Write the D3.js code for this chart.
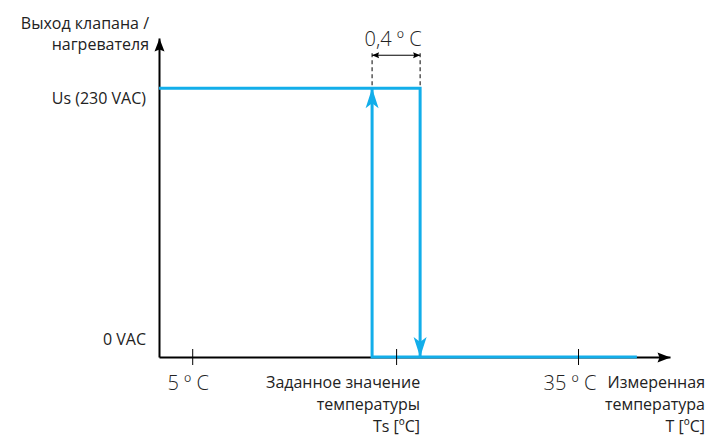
<!DOCTYPE html>
<html>
<head>
<meta charset="utf-8">
<script src="https://cdn.jsdelivr.net/npm/d3@7"></script>
<style>
body { margin: 0; background: #fff; }
text { font-family: "Open Sans", sans-serif; fill: #222; }
.lbl { font-size: 16px; }
.big { font-size: 20px; font-weight: 300; }
</style>
</head>
<body>
<div id="chart"></div>
<script>
// --- данные ---
var yTitle = ["Выход клапана /", "нагревателя"];
var xTitle = ["Измеренная", "температура", "T [ºC]"];
var levels = [0, 230];                       // VAC
var levelLabels = ["0 VAC", "Us (230 VAC)"];
var tempTicks = [5, 20, 35];                 // ºC
var tempLabels = ["5 º C", "", "35 º C"];
var setpointTitle = ["Заданное значение", "температуры", "Ts [ºC]"];
var setpoint = 20;                           // Ts
var hyst = 0.4;                              // гистерезис
var hystLabel = "0,4 º C";
var tMin = 2, tMax = 40, tEnd = 38.2;        // схема по оси T
var uMax = 273;

// выход: включено до Ts+h/2, выключено с Ts-h/2
var onBranch = [[tMin, 230], [setpoint + hyst / 2, 230], [setpoint + hyst / 2, 0]];
var offBranch = [[tEnd, 0], [setpoint - hyst / 2, 0], [setpoint - hyst / 2, 230]];

var width = 709, height = 439;
var margin = {top: 38, right: 39, bottom: 82, left: 159};
var plotW = width - margin.left - margin.right;
var plotH = height - margin.top - margin.bottom;
var blue = "#12aeea";

var svg = d3.select("#chart").append("svg")
    .attr("width", width).attr("height", height);

var defs = svg.append("defs");
function marker(id, color, len, half, notch) {
    defs.append("marker")
        .attr("id", id)
        .attr("markerUnits", "userSpaceOnUse")
        .attr("viewBox", (-len - 1) + " " + (-half - 1) + " " + (len + 2) + " " + (2 * half + 2))
        .attr("markerWidth", len + 2).attr("markerHeight", 2 * half + 2)
        .attr("refX", 0).attr("refY", 0)
        .attr("orient", "auto")
        .append("path")
        .attr("d", "M0,0L" + (-len) + "," + (-half) + "L" + (-len + notch) + ",0L" + (-len) + "," + half + "Z")
        .attr("fill", color);
}
marker("axisArrow", "#000", 13, 5, 2);
marker("blueArrow", blue, 20, 6.5, 5);
marker("dimArrow", "#000", 7, 3, 1);
defs.append("marker")
    .attr("id", "dimArrowStart")
    .attr("markerUnits", "userSpaceOnUse")
    .attr("viewBox", "-1 -4 9 8")
    .attr("markerWidth", 9).attr("markerHeight", 8)
    .attr("refX", 0).attr("refY", 0)
    .attr("orient", "auto")
    .append("path").attr("d", "M0,0L7,-3L6,0L7,3Z").attr("fill", "#000");

var x = d3.scaleLinear()
    .domain([tMin, 5, setpoint - hyst / 2, setpoint + hyst / 2, 35, tMax])
    .range([0, 0.065, 0.417, 0.511, 0.82, 1].map(function(f){ return f * plotW; }));
var y = d3.scaleLinear().domain([0, uMax]).range([plotH, 0]);

var plotArea = svg.append("g")
    .attr("transform", "translate(" + margin.left + "," + margin.top + ")");

// оси
var yAxis = plotArea.append("g")
    .call(d3.axisLeft(y).tickValues([]).tickSizeOuter(0));
yAxis.select(".domain")
    .attr("stroke", "#000").attr("stroke-width", 2)
    .attr("marker-end", "url(#axisArrow)");

var xAxis = plotArea.append("g")
    .attr("transform", "translate(0," + plotH + ")")
    .call(d3.axisBottom(x).tickValues([]).tickSizeOuter(0));
xAxis.select(".domain")
    .attr("stroke", "#000").attr("stroke-width", 2)
    .attr("marker-end", "url(#axisArrow)");

// линия выхода
var line = d3.line()
    .x(function(d){ return x(d[0]); })
    .y(function(d){ return y(d[1]); });

plotArea.selectAll(".branch").data([onBranch, offBranch]).enter()
    .append("path")
    .attr("class", "branch")
    .attr("d", line)
    .attr("fill", "none")
    .attr("stroke", blue)
    .attr("stroke-width", 3)
    .attr("marker-end", "url(#blueArrow)");

// деления по оси T
var ticks = plotArea.append("g")
    .attr("transform", "translate(0," + (plotH - 8) + ")")
    .call(d3.axisBottom(x).tickValues(tempTicks).tickSize(16).tickFormat(""));
ticks.select(".domain").remove();
ticks.selectAll("line").attr("stroke", "#000").attr("stroke-width", 1);

plotArea.selectAll(".tlabel").data(tempTicks).enter()
    .append("text")
    .attr("class", "big")
    .attr("x", function(d){ return x(d) - (d > setpoint ? 8 : 4); })
    .attr("y", plotH + 33)
    .attr("text-anchor", "middle")
    .text(function(d, i){ return tempLabels[i]; });

plotArea.append("text")
    .attr("class", "lbl")
    .attr("text-anchor", "end")
    .selectAll("tspan").data(setpointTitle).enter()
    .append("tspan")
    .attr("x", x(setpoint + hyst / 2))
    .attr("y", function(d, i){ return plotH + 31 + i * 22; })
    .text(function(d){ return d; });

plotArea.append("text")
    .attr("class", "lbl")
    .attr("text-anchor", "end")
    .selectAll("tspan").data(xTitle).enter()
    .append("tspan")
    .attr("x", width - margin.left - 4)
    .attr("y", function(d, i){ return plotH + 31 + i * 22; })
    .text(function(d){ return d; });

// уровни выхода
plotArea.selectAll(".ulabel").data(levels).enter()
    .append("text")
    .attr("class", "lbl")
    .attr("x", -13)
    .attr("y", function(d){ return d > 0 ? y(d) + 16 : y(d) - 12; })
    .attr("text-anchor", "end")
    .text(function(d, i){ return levelLabels[i]; });

plotArea.append("text")
    .attr("class", "lbl")
    .attr("text-anchor", "end")
    .selectAll("tspan").data(yTitle).enter()
    .append("tspan")
    .attr("x", -10)
    .attr("y", function(d, i){ return -9 + i * 21; })
    .text(function(d){ return d; });

// гистерезис
var dimY = y(230) - 33;
plotArea.selectAll(".dash").data([setpoint - hyst / 2, setpoint + hyst / 2]).enter()
    .append("line")
    .attr("x1", function(d){ return x(d); }).attr("x2", function(d){ return x(d); })
    .attr("y1", dimY - 2).attr("y2", y(230))
    .attr("stroke", "#000").attr("stroke-width", 1)
    .attr("stroke-dasharray", "4,3");

plotArea.append("line")
    .attr("x1", x(setpoint - hyst / 2)).attr("x2", x(setpoint + hyst / 2))
    .attr("y1", dimY).attr("y2", dimY)
    .attr("stroke", "#000").attr("stroke-width", 1)
    .attr("marker-start", "url(#dimArrowStart)")
    .attr("marker-end", "url(#dimArrow)");

plotArea.append("text")
    .attr("class", "big")
    .attr("x", x(setpoint) - 3)
    .attr("y", dimY - 9)
    .attr("text-anchor", "middle")
    .text(hystLabel);
</script>
</body>
</html>
